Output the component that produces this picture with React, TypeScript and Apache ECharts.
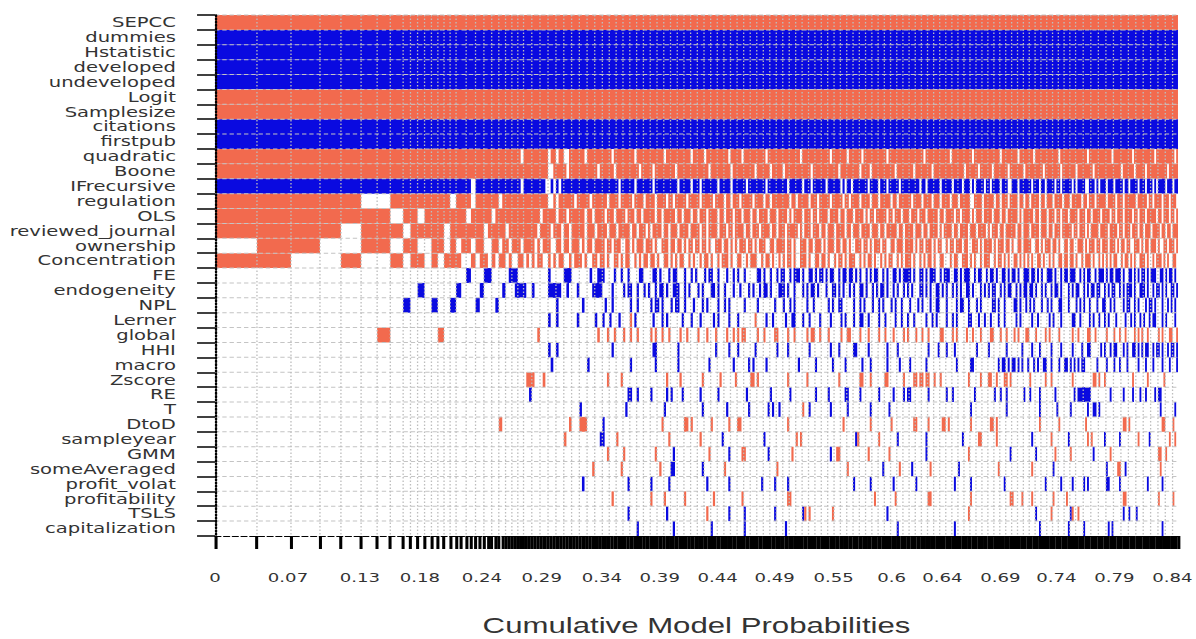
import { useEffect, useRef } from 'react';
import * as echarts from 'echarts';

// variables, top to bottom
const variables = [
  'SEPCC', 'dummies', 'Hstatistic', 'developed', 'undeveloped', 'Logit', 'Samplesize',
  'citations', 'firstpub', 'quadratic', 'Boone', 'IFrecursive', 'regulation', 'OLS',
  'reviewed_journal', 'ownership', 'Concentration', 'FE', 'endogeneity', 'NPL', 'Lerner',
  'global', 'HHI', 'macro', 'Zscore', 'RE', 'T', 'DtoD', 'sampleyear', 'GMM',
  'someAveraged', 'profit_volat', 'profitability', 'TSLS', 'capitalization',
];

// variables that are in every model, with the sign of their coefficient
const alwaysIncluded = ['SEPCC', 'dummies', 'Hstatistic', 'developed', 'undeveloped', 'Logit', 'Samplesize', 'citations', 'firstpub'];
const alwaysSign = ['+', '-', '-', '-', '-', '+', '+', '-', '-'];

// posterior model probabilities (units of 1e-5), best model first
const headProbs = [3660, 2970, 2530, 1830, 1760, 1400, 1150, 1120, 640, 620, 610, 600, 560, 540, 530, 520, 450, 430,
  420, 400, 370, 360, 350, 330, 320, 300, 300, 290, 280, 270, 260, 260, 250, 250, 240, 240];
const midProbs = [240, 240, 239, 238, 235, 233, 232, 231, 230, 230, 229, 229, 228, 228, 227, 227, 226, 226, 225, 225,
  224, 224, 223, 223, 222, 222, 221, 221];
const tailProbs = [
  202, 201, 201, 200, 200, 201, 200, 199, 199, 198, 199, 199, 198, 198, 199, 198, 197, 197, 198, 197,
  199, 198, 198, 197, 197, 196, 197, 196, 197, 196, 196, 195, 196, 195, 195, 194, 195, 194, 194, 194,
  196, 195, 195, 194, 195, 194, 193, 194, 193, 193, 192, 193, 192, 192, 193, 192, 191, 192, 191, 191,
  193, 192, 192, 191, 191, 190, 191, 190, 190, 191, 190, 189, 190, 189, 189, 188, 189, 188, 188, 188,
  190, 189, 189, 188, 188, 187, 188, 187, 187, 186, 187, 187, 186, 186, 187, 186, 185, 185, 186, 185,
  187, 186, 186, 185, 185, 184, 185, 184, 184, 185, 184, 183, 184, 183, 183, 182, 183, 182, 182, 182,
  184, 183, 183, 182, 182, 181, 182, 181, 181, 182, 181, 180, 181, 180, 180, 179, 180, 179, 179, 179,
  181, 180, 180, 179, 179, 178, 179, 178, 178, 179, 178, 177, 178, 177, 177, 176, 177, 176, 176, 176,
  178, 177, 177, 176, 176, 175, 176, 175, 175, 176, 175, 174, 175, 174, 174, 173, 174, 173, 173, 173,
  175, 174, 174, 173, 173, 172, 173, 172, 172, 173, 172, 171, 172, 171, 171, 170, 171, 170, 170, 170,
  172, 171, 171, 170, 170, 169, 170, 169, 169, 170, 169, 168, 169, 168, 168, 167, 168, 167, 167, 167,
  169, 168, 168, 167, 167, 166, 167, 166, 166, 167, 166, 165, 166, 165, 165, 164, 165, 164, 164, 164,
  166, 165, 165, 164, 164, 163, 164, 163, 163, 164, 163, 162, 163, 162, 162, 161, 162, 161, 161, 161,
  163, 162, 162, 161, 161, 160, 161, 160, 160, 161, 160, 159, 160, 159, 159, 158, 159, 158, 158, 158,
];

// x axis labels (cumulative probability where each label sits, and its text)
const xLabelPos = [0, 0.0637, 0.1265, 0.1788, 0.2329, 0.2852, 0.3376, 0.3882, 0.4388, 0.4885, 0.54, 0.5906,
  0.635, 0.6856, 0.7345, 0.785, 0.8357];
const xLabelText = ['0', '0.07', '0.13', '0.18', '0.24', '0.29', '0.34', '0.39', '0.44', '0.49', '0.55', '0.6',
  '0.64', '0.69', '0.74', '0.79', '0.84'];

// inclusion per model: '+' positive, '-' negative, '.' not in model
// segments: first 36 models, next 28, then 14 blocks of 20 ("." alone = none in that segment)
const rowQuadratic = '+++++++++++++++++++++++++++++++++.++ +++++++.++.++..++++++.++++++ ++++.+++++++++.+++++ +++++++.+++++++++++. +++++.++++++++++.+++ ++.++++++++++.++++++ +++++++++.++++++++++ +++.+++++++.++++++.+ ++++++++++.+++++++++ ++++++++.+++++++++++ +.++++++++++.+++++++ ++++++.++++++++.++++ +++.++++++++++++.+++ +++++++++++.++++++++ ++++.++++++++++.++++ +++++++.++++++++++.+';
const rowBoone = '++++++++++++++++++++++++++++++++++++ +++++++..+++++.+++++++++++.+ +++++.++++++++++.+++ ++.+++++++++.+++++++ +++++++.+++++++++.++ ++++++++.++++++.++++ +.++++++++++++.+++++ +++++++.+++++++++.++ ++.+++++++++++.+++++ +++.++++++++.+++++++ ++++++++.++++++.++++ ++.+++++++.+++++++.+ ++++++++.++++++++.++ +++++.++++++++.+++++ +++++++++.++++++.+++ ++.+++++++++++.+++++';
const rowIFrecursive = '-------------------.-------------.-- ------..-.-.---------------- -------.------.----- --.----------.-----. ---.-------.-----.-- ----.--------.------ ---.------.---.----- -.------.-.--.------ -.----.---.-----.--- ------.--.------.--- --.----.---.-.----.- -.----.---..---.---- --.---.--.----.--.-- ---.-.----..---.-.-- -.---.----.--.----.- --.---.-.----.---.--';
const rowRegulation = '+++++..++++++++.+++.++++++.+++++++++ +++++++..+.++++++.+++++.++++ ++.++++.+++++.++++.+ +++.++++.++.+++++.++ +++.+++++.++++.++.++ +.+++++.++++.++.++++ ++++.++.+++++.+++.++ +++.+++++.++.++++.++ ++.+++.+++++.++.++++ ++.++++.++++.+++.+++ +.+++.+++++..++++.++ +++.++.+++.++++.++.+ +.++++.++.+++.++++.+ ++.+++++.++.+++.++++ +.++++.+++.++++++.++ +++.++.++++.+++.+++.';
const rowOLS = '+++++++.++.+++++++.+++++.+++++++++++ ++++.+++++.+++.++++++.++.+++ +.+++.++++.+++.++.++ +++.++.+++++.++.+++. ++.+++.++++.++.+++.+ ++.+++.++.++++.+++.+ +++.+.++++.+++.++.++ ++.++++.++.+++.++++. +.++.+++++.++.+++.++ +.+++.+++.+++++.++.+ +++.++.++++.+.+++.++ ++.+++.++.+++++.+.++ +++.++.+++.+++.++.++ +.++++.+++.++.++++.+ +++.++.+++.++++.++.+ ++.+++++.++.+++.++.+';
const rowReviewed = '++++.+++.+++++.+++++++.+++++.+++++++ +++.++++.+++.++.+++++.+++.++ ++.+++.+++++.++.+++. +.++++.++.+++.++++.+ +++.++.++++.+++.++.+ +++.++.+++.++++.++.+ ++.+++++.+.+++.+++.+ +.+++.++++.++.+++.++ ++.+++.++.+++++.++.+ +++.+++.++.++++.+.++ ++.++.++++.+++.++++. +.+++.++.+++++.++.++ +.++++.+++.++.+++.++ +++.++.+++.+.++++.++ ++.++++.++.+++.+++.+ +.+++.++++.++.++.+++';
const rowOwnership = '.++..++.++..++.+.++.++..++.++.+++.++ ++.+.+++..++.++.+++.+.++.+++ +.++.+++..++.+.+++.+ ++.+..+++.++.++.+.++ .++.++.+..+++.++.+.+ .+++.++.+.+++..++.++ ++.++.+..+++.++.+++. +.+++.++.++.+..+++.+ +.+.+++.++..++.+++.+ +++.+.++.+++.+.++..+ .++.+++.++..+++.+.++ ++.+.+++.++.+..++.++ ++..++.+.+++.++.+..+ +.++..+++.+.+++.++.+ ++.+++.+.++.++..+++. +.++.+++.+..++.+++.+';
const rowConcentration = '++..+..+.++.+.+++..+.++.+.++.+..++.+ .+.++..+.+.++..+.+++.+..++.+ +.+..++.+.++..+.+.++ .++.+..++.+.+.++..+. +..+.++.+..+.+++.+.. ++..+.+++..+.++.+..+ .+.++.+..+++.+..++.+ +.+..+.++.+.+++..+.+ .++.+..+.+.++..+.+.+ ++.+..+.+.++.+..++.. .+.++..+++.+.+..+.++ +..+.++.+.+..++.+.+. +.+..++.+..+.+..++.+ +.++.+..+.+++.+..+.+ .+.+.++..+.++.+.+..+ ++.+..+.+++.+.+..++.';
const rowFE = '..................-...--.....---.... .......-.....---.......-..-- -....-..-..-....--.. ..--.-...-.--...-..- .-...-.--..-...-..-. -..-.....--.-..-..-. --..-.---.-..--.-.-- .-.--..-.--.--.-.-.. -.-.--..-.-..--.-.-- --.-..--.-.---..-.-- -..--.-.---..-.--..- .--.-..--.-.--.-..-- -.--.-.-..---.-..-.- -.---..-.-.--..-.--- .-.--.---.-..--.-.-. --.-.---..--.-.--.-.';
const rowEndogeneity = '..........-.....-....-.....-...----. .-.....-----..-...-.....---- ....-....-.--..-..-. -..-.--.-..---..-.-. ..-.-...--.-..-...-. .-...-.-..-.--.-...- --.-..-...-.-.--.-.. .-..--.-.-..-.-..--. -..-.-.--.-..-.-..-. -.-...--.-.-..--.-.- ..-.-.-..--.-...-.-. -.--..-.-.--..-.-.-- .--.-..-.-..-.--.-.. .-.-.--..-.-.--.--.. -.-.--..-.-.---.-..- --.-..-.--.-.-..--.-';
const rowNPL = '........-...-..-....-....-.......... ..........-.........-....... .-..-.......-..-.... .-.--.-...-.--..-... -...-.-....-..-.-... ...-.....-.......-.. .-..-.-.....-..-.... ..-.-..--.....-..-.- ...-..-.-...-.-..-.. .-...-.-...-..--...- ....-.--..-...-.-... ..--.-..-....--.-..- .-.-...-..-.-...--.. .-...-.-.-..-...-..- -..-.-....-.--..-.-. ..-.--.-...-..-.-.-.';
const rowLerner = '. .......-..-.......-......-.. -..-...-....+.-..... ..-...-.-......-...- ...-.....-.-....-... -.......+....-..-... ..-..--...-..-....-. ...-....-.-...-..--. .-....-..-....-..-.. -..-.....-..-.-....- ..-.-.....--...-..-. .-...-..-.....-.-... ..-..-.....-.-...-.. ...--..-....-.-..-.. -.-...-....-..-.-..- .-..-.--...-.-....-.';
const rowGlobal = '......+......+...................... ...+......................+. ..+..+...+..+..+.... .+.+..+..+....+..+.. ..+...+...+....+..+. +.++.....+..+....++. ...+..+.....+.++..+. ..+.....+..++....+.. .+....+..+...+....+. +...+..+..+.....++.. ..+.+....+..+...+... .++...+..+...+.+...+ +...+....+.+....+... ...+..+....++..+.... .+...+..+..+....+.+. +..+.....+.+...++..+';
const rowHHI = '. .......-..-................. ....-............... ..--.........-...... ..........-.....-... -.......-.........-. ...-.........-...... ...-...-......--.... .-........-....-.... ..........-....-...- ...-..........-..... -........-.......-.. ..-...-.....-....-.. ...-....-..--.....-. -..-.--...-.-..--.-. -.--..-.--.-..-.--.-';
const rowMacro = '. ........-.............-..... ............-....... ...-.........-...... .......-..........-. .....-.-.....-...... ........-.......-... ....-.....-.......-. ..-.......-.....-... .-.......-.......... ....-......--....... .....-.--.-.--.-.-.. -..-.-..--..-...-..- -.-.-.-.--......-... .-...-..-...-.....-. ..-...-....-...-...-';
const rowZscore = '...................................+ ++...+...................... ..+.....+........... ........+.....+..... ....+.......+......+ ......++.+.......... ...+........+....... .......+.........++. ..+......++.......+. ...++.++.++..+..+... ..........+.....+... ++..+...++.+........ .+.......+..+....... ...+..........++.+.. +..............+.... ...+........+.......';
const rowRE = '. -........................... ...........--..-.... .-......-.-....-.... ...-.......-........ ....-..........-.... ....-...........-... ..-.......--.....-.. ......-......-....-. --........-........- ..-..........-...... ...-..-..-........-. .-....-.......-..... ....-.-------....... ...-......-....-...- ..-....-.--.........';
const rowT = '. ...................-........ ..........-......... .......-............ ....-..........-.... .....-........-.-..- ..........+..-...... ...-.......-........ ..-........-........ . ...........-........ .........-.......... ......-........-.... ..-........-..--.-.. . ..........-.......-.';
const rowDtoD = '..........................+......... ...............+...+++...... -................... ......+.........++.+ ........+.......+... ++.................. ...+................ .........+.......... ..+.........+....... ...++.....+......++. +..........+........ .++.+............... ......+.........+... ..........+......... ..........++.+...... ...........++....+..';
const rowSampleyear = '. .............+.............- -.....+............. .........+.......... ...+.........-...... ............-....... .......+.+.......... ...............-+... ......+........-.... .........-.......... .......-.......++... ....+............... ..-.........+....... .-.........+.+...... -.......-.........+. ....-..........+..+.';
const rowGMM = '. . ..+......+.......... ...+.......-........ .......+........-... ..++..........-..... .....+.............. ...-..++............ .+.........+........ .........-.......... ..........+......... ...........-........ ....-.........+..... ..+...........-..... ...+................ .........++..+......';
const rowSomeAveraged = '. ........................+... ........+........... .....+....--........ ....-.........+..... ..................+. . ...........+........ ........-.......+... ..-........+........ .....-.............. .....+.............. ..+..........-...... . .-.....++..-........ ..........+.........';
const rowProfitVolat = '. ....................-....... ...........-........ .-.......-.......... ......-.........-... ...........-.....-.. ...-................ ..............-..... ..-..........-...... ....-............... ...-.......-........ ........-........... .........-.......-.. ...-.....-.-........ .--.....-........... ...-.......-........';
const rowProfitability = '. . ....+............... .+.....+........+... .........+.......... ..+................. ...++............... . ....+.........+..... ..........++........ ...........+........ ...........++....+.. ..+..........+...... +................... ..........++........ .........+.......+..';
const rowTSLS = '. . ...........-........ ........-........... ......+.........-... ...-.............-.. ..........-+.+...... ....+............... ..........-......... . ..........+......... . ....-.......+....... ..-+..+............. ..........-..-...-.. .';
const rowCapitalization = '. . ...............-.... ...........-........ ........-........... ...-................ ..-................. . ...............-.... . ...-................ . ......-............. .-.......-.......... ..-.-............... ...........-........';

const partialVars = ['quadratic', 'Boone', 'IFrecursive', 'regulation', 'OLS', 'reviewed_journal', 'ownership',
  'Concentration', 'FE', 'endogeneity', 'NPL', 'Lerner', 'global', 'HHI', 'macro', 'Zscore', 'RE', 'T', 'DtoD',
  'sampleyear', 'GMM', 'someAveraged', 'profit_volat', 'profitability', 'TSLS', 'capitalization'];
const partialRows = [rowQuadratic, rowBoone, rowIFrecursive, rowRegulation, rowOLS, rowReviewed, rowOwnership,
  rowConcentration, rowFE, rowEndogeneity, rowNPL, rowLerner, rowGlobal, rowHHI, rowMacro, rowZscore, rowRE, rowT,
  rowDtoD, rowSampleyear, rowGMM, rowSomeAveraged, rowProfitVolat, rowProfitability, rowTSLS, rowCapitalization];

const CORAL = '#f26a4e';
const BLUE = '#0a0ae0';
const SCALE_X = 1.45; // the reference is stretched sideways
const W = 825;
const H = 639;

const segLengths = [36, 28, ...Array(14).fill(20)];

function parseRow(row: string): string {
  const segs = row.trim().split(/\s+/);
  return segLengths.map((len, i) => (segs[i] || '').padEnd(len, '.').slice(0, len)).join('');
}

export default function App() {
  const chartRef = useRef<HTMLDivElement>(null);

  useEffect(() => {
    if (!chartRef.current) return;
    const chart = echarts.init(chartRef.current, null, { renderer: 'svg' });

    const probs = [...headProbs, ...midProbs, ...tailProbs].map((v) => v / 1e5);
    const nModels = probs.length;
    const cum = [0];
    probs.forEach((p) => cum.push(cum[cum.length - 1] + p));
    const total = cum[nModels];

    // merge neighbouring models with the same sign into one block
    const cells: number[][] = [];
    variables.forEach((name, r) => {
      const a = alwaysIncluded.indexOf(name);
      const pattern = a >= 0 ? alwaysSign[a].repeat(nModels) : parseRow(partialRows[partialVars.indexOf(name)]);
      let i = 0;
      while (i < nModels) {
        const c = pattern[i];
        if (c === '+' || c === '-') {
          let j = i;
          while (j + 1 < nModels && pattern[j + 1] === c) j++;
          cells.push([cum[i], cum[j + 1], r, c === '+' ? 1 : -1]);
          i = j + 1;
        } else {
          i++;
        }
      }
    });

    // dotted vertical grid at model boundaries, thinned where models get narrow
    const vGrid: number[] = [];
    let last = 0;
    cum.slice(1, -1).forEach((b) => {
      if (b - last >= 0.005) {
        vGrid.push(b);
        last = b;
      }
    });

    const option: echarts.EChartsOption = {
      animation: false,
      textStyle: { fontFamily: 'DejaVu Sans' },
      grid: { left: 148.3, right: 12.6, top: 15, bottom: 103, outerBoundsMode: 'none' } as any,
      xAxis: {
        type: 'value',
        min: 0,
        max: total,
        z: 5,
        name: 'Cumulative Model Probabilities',
        nameLocation: 'middle',
        nameGap: 79,
        nameTextStyle: {
          fontFamily: "'Liberation Sans', Arial, sans-serif",
          fontSize: 21.5,
          color: '#333',
        },
        axisLine: { show: true, onZero: false, lineStyle: { color: '#000', type: 'dashed', width: 1 } },
        axisTick: { show: true, length: 13, customValues: cum, lineStyle: { color: '#000', width: 2.1 } } as any,
        axisLabel: {
          customValues: xLabelPos,
          margin: 35,
          fontSize: 12.5,
          color: '#333',
          formatter: (v: number) => {
            let best = 0;
            xLabelPos.forEach((p, i) => {
              if (Math.abs(p - v) < Math.abs(xLabelPos[best] - v)) best = i;
            });
            return xLabelText[best];
          },
        } as any,
        splitLine: { show: false },
      },
      yAxis: {
        type: 'category',
        data: variables,
        inverse: true,
        z: 5,
        axisLine: { show: true, lineStyle: { color: '#000', type: 'dotted', width: 1.6 } },
        axisTick: { show: true, interval: 0, length: 12.4, lineStyle: { color: '#000', width: 1.5 } },
        axisLabel: { interval: 0, margin: 27, fontSize: 13.5, color: '#333' },
        splitLine: { show: false },
      },
      series: [
        {
          type: 'custom',
          name: 'models',
          silent: true,
          z: 2,
          encode: { x: [0, 1], y: 2 },
          data: cells,
          renderItem: (params: any, api: any) => {
            const r = api.value(2);
            const p0 = api.coord([api.value(0), r]);
            const p1 = api.coord([api.value(1), r]);
            const h = api.size([0, 1])[1];
            return {
              type: 'rect',
              shape: { x: p0[0], y: p0[1] - h / 2, width: p1[0] - p0[0], height: h },
              style: { fill: api.value(3) > 0 ? CORAL : BLUE },
            };
          },
        } as any,
        {
          type: 'custom',
          name: 'grid',
          silent: true,
          z: 3,
          data: [[0, 0]],
          renderItem: (params: any, api: any) => {
            const cs = params.coordSys;
            const children: any[] = [];
            const rowH = cs.height / variables.length;
            for (let k = 0; k < variables.length; k++) {
              const y = cs.y + k * rowH;
              children.push({
                type: 'line',
                shape: { x1: cs.x, y1: y, x2: cs.x + cs.width, y2: y },
                style: { stroke: '#c4c4c4', lineWidth: 1, lineDash: [3, 2] },
              });
            }
            vGrid.forEach((v) => {
              const x = api.coord([v, 0])[0];
              children.push({
                type: 'line',
                shape: { x1: x, y1: cs.y, x2: x, y2: cs.y + cs.height },
                style: { stroke: '#bdbdbd', lineWidth: 0.9, lineDash: [1.5, 2] },
              });
            });
            return { type: 'group', children };
          },
        } as any,
      ],
    };

    chart.setOption(option);

    return () => {
      chart.dispose();
    };
  }, []);

  return (
    <div style={{ position: 'absolute', left: 0, top: 0, width: 1196, height: 639, overflow: 'hidden', background: '#fff' }}>
      <div
        ref={chartRef}
        style={{ width: W, height: H, transform: `scaleX(${SCALE_X})`, transformOrigin: '0 0' }}
      />
    </div>
  );
}
